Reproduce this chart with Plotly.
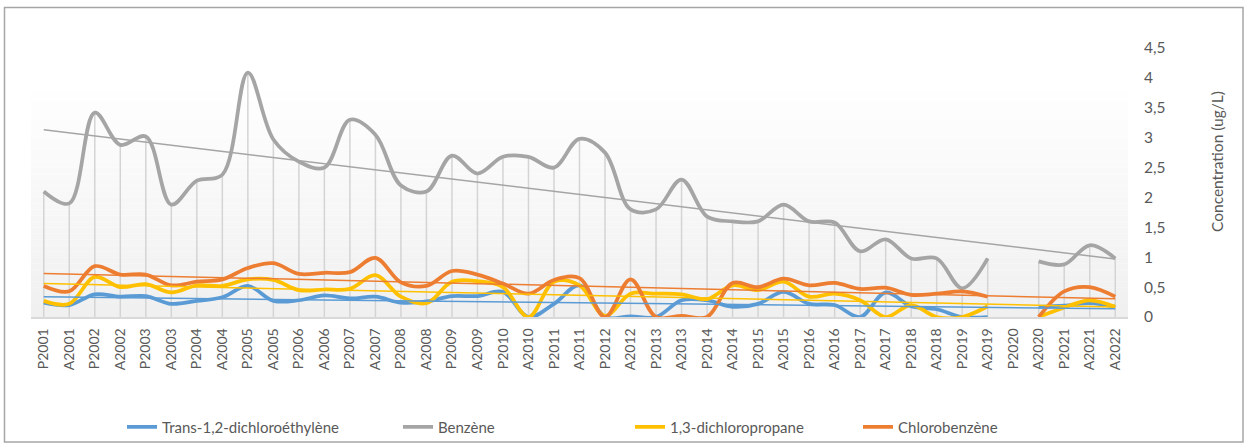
import numpy as np
import plotly.graph_objects as go

categories = ["P2001", "A2001", "P2002", "A2002", "P2003", "A2003", "P2004", "A2004",
              "P2005", "A2005", "P2006", "A2006", "P2007", "A2007", "P2008", "A2008",
              "P2009", "A2009", "P2010", "A2010", "P2011", "A2011", "P2012", "A2012",
              "P2013", "A2013", "P2014", "A2014", "P2015", "A2015", "P2016", "A2016",
              "P2017", "A2017", "P2018", "A2018", "P2019", "A2019", "P2020", "A2020",
              "P2021", "A2021", "A2022"]

trans_dce = [0.24, 0.20, 0.38, 0.34, 0.35, 0.22, 0.27, 0.33, 0.52, 0.27, 0.28, 0.36,
             0.31, 0.34, 0.24, 0.26, 0.35, 0.35, 0.42, 0.0, 0.22, 0.53, 0.0, 0.01,
             0.0, 0.28, 0.28, 0.17, 0.22, 0.42, 0.22, 0.20, 0.0, 0.41, 0.18, 0.13,
             0.0, 0.0, None, 0.17, 0.19, 0.23, 0.17]

benzene = [2.10, 1.90, 3.42, 2.88, 3.02, 1.88, 2.28, 2.38, 4.09, 2.97, 2.60, 2.50,
           3.30, 3.05, 2.20, 2.10, 2.70, 2.40, 2.68, 2.68, 2.50, 2.98, 2.75, 1.80,
           1.80, 2.30, 1.68, 1.60, 1.60, 1.88, 1.60, 1.58, 1.10, 1.30, 0.98, 0.98,
           0.48, 0.98, None, 0.93, 0.88, 1.20, 0.98]

dcp = [0.27, 0.22, 0.67, 0.50, 0.55, 0.41, 0.53, 0.52, 0.63, 0.62, 0.45, 0.46,
       0.47, 0.70, 0.34, 0.23, 0.59, 0.60, 0.50, 0.0, 0.59, 0.53, 0.02, 0.39,
       0.39, 0.38, 0.30, 0.53, 0.45, 0.59, 0.34, 0.39, 0.28, 0.0, 0.20, 0.0,
       0.0, 0.18, None, 0.0, 0.16, 0.28, 0.17]

chlorobenzene = [0.52, 0.43, 0.85, 0.71, 0.71, 0.53, 0.59, 0.63, 0.82, 0.90, 0.72, 0.74,
                 0.75, 0.99, 0.58, 0.52, 0.77, 0.71, 0.56, 0.39, 0.62, 0.65, 0.0, 0.63,
                 0.0, 0.02, 0.0, 0.57, 0.50, 0.64, 0.53, 0.57, 0.47, 0.49, 0.37, 0.39,
                 0.43, 0.34, None, 0.0, 0.43, 0.50, 0.34]

series_names = ["Trans-1,2-dichloroéthylène", "Benzène", "1,3-dichloropropane", "Chlorobenzène"]
series_values = [trans_dce, benzene, dcp, chlorobenzene]
series_colors = ["#5b9bd5", "#a5a5a5", "#ffc000", "#ed7d31"]

y_ticks = [0, 0.5, 1, 1.5, 2, 2.5, 3, 3.5, 4, 4.5]
y_ticklabels = ["0", "0,5", "1", "1,5", "2", "2,5", "3", "3,5", "4", "4,5"]

FONT = "Lato"
TXT = "#595959"

# plot-area geometry (px)
W, H = 1247, 447
L, R, T, B = 31, 1128, 48, 317
PW, PH = R - L, B - T


def px_x(px):
    return (px - L) / PW


def px_y(py):
    return (B - py) / PH


fig = go.Figure()

# drop lines from highest series value down to the axis
dx, dy = [], []
for i, c in enumerate(categories):
    vals = [s[i] for s in series_values if s[i] is not None]
    if vals:
        dx += [c, c, None]
        dy += [0, max(vals), None]
fig.add_trace(go.Scatter(x=dx, y=dy, mode="lines", line=dict(color="#d4d4d4", width=1.5),
                         hoverinfo="skip", showlegend=False))

# series (smoothed)
legend_ids = ["legend", "legend2", "legend3", "legend4"]
for name, vals, col, lg in zip(series_names, series_values, series_colors, legend_ids):
    fig.add_trace(go.Scatter(x=categories, y=vals, name=name, mode="lines",
                             line=dict(color=col, width=3.75, shape="spline", smoothing=1.0),
                             connectgaps=False, legend=lg))

# linear trend lines
idx = np.arange(len(categories))
for vals, col in zip(series_values, series_colors):
    arr = np.array([np.nan if v is None else v for v in vals], dtype=float)
    ok = ~np.isnan(arr)
    a, b = np.polyfit(idx[ok] + 1, arr[ok], 1)
    ys = a * (idx + 1) + b
    fig.add_trace(go.Scatter(x=[categories[0], categories[-1]], y=[ys[0], ys[-1]],
                             mode="lines", line=dict(color=col, width=1.5),
                             hoverinfo="skip", showlegend=False))

# gradient background of plot area (bands)
shapes = []
g_top, g_bot = px_y(78), 0.0
n = 40
for k in range(n):
    y0 = g_bot + (g_top - g_bot) * k / n
    y1 = g_bot + (g_top - g_bot) * (k + 1) / n
    t = k / (n - 1)
    v = int(round(240 + (255 - 240) * t))
    shapes.append(dict(type="rect", xref="paper", yref="paper", x0=0, x1=1, y0=y0, y1=y1,
                       fillcolor=f"rgb({v},{v},{v})", line=dict(width=0), layer="below"))
# outer chart border
shapes.append(dict(type="rect", xref="paper", yref="paper",
                   x0=px_x(4.5), x1=px_x(1243), y0=px_y(7.5), y1=px_y(442),
                   fillcolor="rgba(0,0,0,0)", line=dict(color="#a6a6a6", width=1.5),
                   layer="below"))

legend_x_px = [122, 398, 630, 858]
legend_cfg = {}
for lg, xp in zip(legend_ids, legend_x_px):
    legend_cfg[lg] = dict(x=px_x(xp), y=px_y(427), xanchor="left", yanchor="middle",
                          orientation="h", bgcolor="rgba(0,0,0,0)",
                          font=dict(family=FONT, size=15, color=TXT))

fig.update_layout(
    width=W, height=H,
    margin=dict(l=L, r=W - R, t=T, b=H - B, autoexpand=False),
    paper_bgcolor="white", plot_bgcolor="rgba(0,0,0,0)",
    font=dict(family=FONT, color=TXT),
    shapes=shapes,
    showlegend=True,
    **legend_cfg,
    xaxis=dict(type="category", categoryorder="array", categoryarray=categories,
               range=[-0.5, len(categories) - 0.5], tickangle=-90,
               tickfont=dict(family=FONT, size=14, color=TXT), showgrid=False,
               showline=True, linecolor="#d9d9d9", linewidth=1.5, ticks="",
               ticklabelstandoff=4, zeroline=False),
    yaxis=dict(side="right", range=[0, 4.5], tickvals=y_ticks, ticktext=y_ticklabels,
               tickfont=dict(family=FONT, size=15.5, color=TXT), showgrid=False,
               showline=False, zeroline=False, ticks="", ticklabelstandoff=15),
    annotations=[dict(text="Concentration (ug/L)", xref="paper", yref="paper",
                      x=px_x(1217), y=px_y(162), textangle=-90, showarrow=False,
                      xanchor="center", yanchor="middle",
                      font=dict(family=FONT, size=15.5, color=TXT))],
)

fig.write_html("out.html", config={"displayModeBar": False},
               post_script="document.body.style.margin='0';document.body.style.overflow='hidden';")
